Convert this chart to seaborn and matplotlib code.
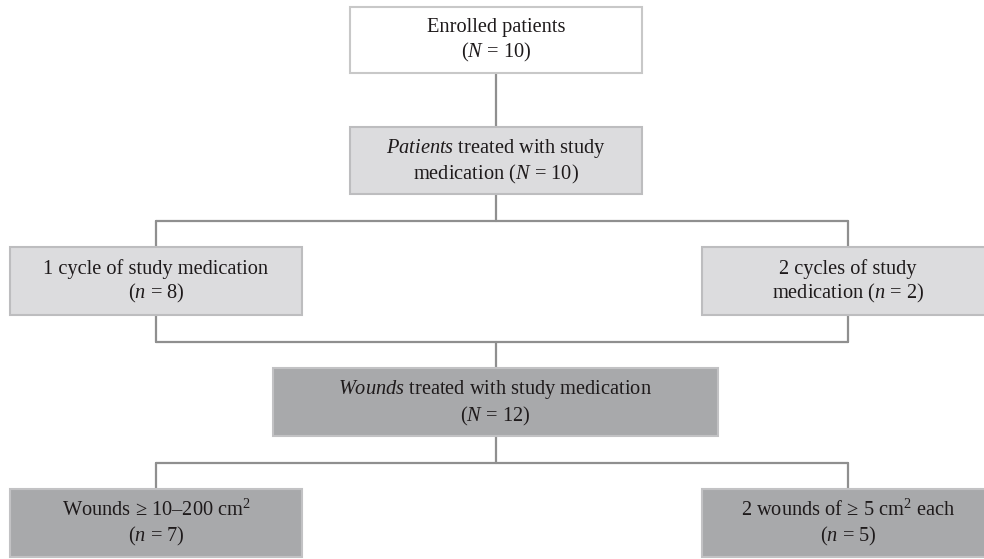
import matplotlib
matplotlib.use("Agg")
import matplotlib.pyplot as plt
import seaborn as sns
from matplotlib.patches import Rectangle

sns.set_theme(style="white")
plt.rcParams['font.family'] = ['Liberation Serif', 'DejaVu Serif']
plt.rcParams['mathtext.fontset'] = 'custom'
plt.rcParams['mathtext.rm'] = 'Liberation Serif'
plt.rcParams['mathtext.it'] = 'Liberation Serif:italic'

# Flowchart content
labels = [
    "Enrolled patients\n($N$ = 10)",
    "$\\it{Patients}$ treated with study\nmedication ($N$ = 10)",
    "1 cycle of study medication\n($n$ = 8)",
    "2 cycles of study\nmedication ($n$ = 2)",
    "$\\it{Wounds}$ treated with study medication\n($N$ = 12)",
    "Wounds ≥ 10–200 cm$^2$\n($n$ = 7)",
    "2 wounds of ≥ 5 cm$^2$ each\n($n$ = 5)",
]
counts = [10, 10, 8, 2, 12, 7, 5]
levels = ["white", "light", "light", "light", "dark", "dark", "dark"]

# Layout (pixel coordinates)
boxes = [
    (350, 7, 292, 66),
    (350, 127, 292, 67),
    (10, 247, 292, 68),
    (702, 247, 292, 68),
    (273, 368, 445, 68),
    (10, 489, 292, 68),
    (702, 489, 292, 68),
]
fills = {"white": "#ffffff", "light": "#dcdcde", "dark": "#a8a9ab"}
edges = {"white": "#c8c8c8", "light": "#bdbdbf", "dark": "#c2c2c4"}
line_c = "#8f8f8f"

fig = plt.figure(figsize=(9.84, 5.59), dpi=100)
ax = fig.add_axes([0, 0, 1, 1])
ax.set_xlim(0, 984)
ax.set_ylim(559, 0)
ax.axis("off")

def cx(b):
    return b[0] + b[2] / 2

# connectors
lw = 1.6
ax.plot([cx(boxes[0])]*2, [boxes[0][1]+boxes[0][3], boxes[1][1]], color=line_c, lw=lw, zorder=1)
# split 1
ax.plot([cx(boxes[1])]*2, [boxes[1][1]+boxes[1][3], 221], color=line_c, lw=lw, zorder=1)
ax.plot([156, 848], [221, 221], color=line_c, lw=lw, zorder=1)
ax.plot([156, 156], [221, 247], color=line_c, lw=lw, zorder=1)
ax.plot([848, 848], [221, 247], color=line_c, lw=lw, zorder=1)
# merge
ax.plot([156, 156], [315, 342], color=line_c, lw=lw, zorder=1)
ax.plot([848, 848], [315, 342], color=line_c, lw=lw, zorder=1)
ax.plot([156, 848], [342, 342], color=line_c, lw=lw, zorder=1)
ax.plot([cx(boxes[4])]*2, [342, 368], color=line_c, lw=lw, zorder=1)
# split 2
ax.plot([cx(boxes[4])]*2, [436, 463], color=line_c, lw=lw, zorder=1)
ax.plot([156, 848], [463, 463], color=line_c, lw=lw, zorder=1)
ax.plot([156, 156], [463, 489], color=line_c, lw=lw, zorder=1)
ax.plot([848, 848], [463, 489], color=line_c, lw=lw, zorder=1)

for (x, y, w, h), lab, lev in zip(boxes, labels, levels):
    ax.add_patch(Rectangle((x, y), w, h, facecolor=fills[lev], edgecolor=edges[lev], lw=1.5, zorder=2))
    ax.text(x + w / 2, y + h / 2 + 1, lab, ha="center", va="center", fontsize=14.7,
            color="#1e1a1b", linespacing=1.22, zorder=3)

fig.savefig("out.png", dpi=100)
